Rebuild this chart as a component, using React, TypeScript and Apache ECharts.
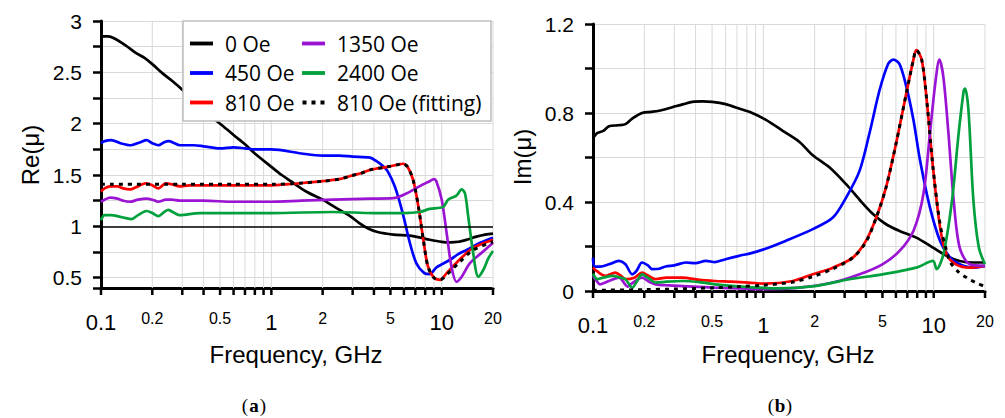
import React, { useEffect, useRef } from "react";
import * as echarts from "echarts";

// ---------- data (frequency in GHz, value) ----------
const re0Oe: [number, number][] = [
  [0.1, 2.85], [0.11, 2.85], [0.12, 2.83], [0.14, 2.76], [0.16, 2.69], [0.18, 2.64], [0.2, 2.58],
  [0.23, 2.49], [0.26, 2.42], [0.3, 2.33], [0.35, 2.22], [0.4, 2.13], [0.5, 2.0], [0.6, 1.89],
  [0.7, 1.8], [0.8, 1.71], [1.0, 1.58], [1.15, 1.5], [1.3, 1.44], [1.6, 1.34], [2.0, 1.26],
  [2.4, 1.18], [2.9, 1.1], [3.3, 1.03], [3.7, 0.98], [4.2, 0.945], [5.2, 0.92], [6.5, 0.91],
  [7.5, 0.89], [8.5, 0.87], [10, 0.85], [11.2, 0.845], [12.5, 0.85], [14, 0.87], [16, 0.9],
  [18, 0.92], [20, 0.93],
];
const re450Oe: [number, number][] = [
  [0.1, 1.81], [0.105, 1.83], [0.115, 1.84], [0.13, 1.81], [0.15, 1.79], [0.17, 1.82], [0.185, 1.84],
  [0.2, 1.81], [0.217, 1.79], [0.235, 1.82], [0.25, 1.83], [0.27, 1.81], [0.29, 1.79], [0.35, 1.79],
  [0.4, 1.78], [0.5, 1.76], [0.6, 1.77], [0.7, 1.76], [0.8, 1.75], [1.0, 1.75], [1.5, 1.71],
  [2.0, 1.69], [2.5, 1.69], [3.0, 1.68], [3.8, 1.67], [4.1, 1.64], [4.5, 1.59], [4.8, 1.54],
  [5.3, 1.39], [5.9, 1.13], [6.5, 0.84], [7.1, 0.64], [7.9, 0.545], [8.5, 0.535], [9.3, 0.6],
  [10, 0.63], [11.2, 0.675], [12.5, 0.73], [14, 0.77], [16.8, 0.84], [20, 0.89],
];
const re810Oe: [number, number][] = [
  [0.1, 1.34], [0.105, 1.37], [0.113, 1.39], [0.125, 1.39], [0.135, 1.37], [0.148, 1.36], [0.16, 1.38],
  [0.175, 1.41], [0.185, 1.42], [0.2, 1.4], [0.217, 1.37], [0.23, 1.4], [0.24, 1.42], [0.26, 1.41],
  [0.29, 1.39], [0.33, 1.4], [0.38, 1.4], [0.5, 1.4], [0.6, 1.4], [0.8, 1.4], [1.0, 1.4],
  [1.47, 1.42], [2.0, 1.44], [2.5, 1.46], [2.9, 1.49], [3.4, 1.52], [3.8, 1.55], [4.8, 1.58],
  [5.5, 1.6], [5.9, 1.61], [6.3, 1.58], [6.8, 1.45], [7.3, 1.19], [7.8, 0.87], [8.3, 0.61],
  [9.0, 0.5], [9.8, 0.48], [10.7, 0.545], [12.7, 0.675], [15.3, 0.79], [20, 0.87],
];
const re1350Oe: [number, number][] = [
  [0.1, 1.24], [0.105, 1.26], [0.113, 1.28], [0.125, 1.27], [0.135, 1.25], [0.148, 1.24], [0.165, 1.26],
  [0.185, 1.27], [0.2, 1.26], [0.217, 1.24], [0.24, 1.26], [0.26, 1.26], [0.29, 1.25], [0.4, 1.25],
  [0.6, 1.24], [1.0, 1.24], [1.5, 1.25], [2.3, 1.26], [3.8, 1.27], [5.2, 1.275], [6.2, 1.32],
  [7.4, 1.39], [8.5, 1.44], [9.0, 1.46], [9.3, 1.44], [10.0, 1.26], [10.7, 0.93], [11.4, 0.61],
  [12.2, 0.46], [13.1, 0.51], [14.6, 0.64], [16.8, 0.73], [20, 0.84],
];
const re2400Oe: [number, number][] = [
  [0.1, 1.06], [0.105, 1.11], [0.115, 1.11], [0.125, 1.1], [0.14, 1.08], [0.151, 1.07], [0.165, 1.11],
  [0.185, 1.15], [0.2, 1.13], [0.217, 1.1], [0.235, 1.14], [0.248, 1.16], [0.27, 1.13], [0.29, 1.11],
  [0.38, 1.13], [0.6, 1.13], [1.0, 1.13], [2.3, 1.14], [4.0, 1.13], [6.0, 1.13], [7.4, 1.14],
  [8.5, 1.17], [10.2, 1.19], [10.9, 1.26], [12.2, 1.3], [13.1, 1.36], [13.7, 1.32], [14.3, 1.1],
  [15.3, 0.74], [16.4, 0.51], [17.6, 0.58], [18.8, 0.69], [20, 0.76],
];
const re810Fit: [number, number][] = [
  [0.1, 1.41], [0.3, 1.41], [0.6, 1.41], [1.0, 1.41], [1.47, 1.42], [2.0, 1.44], [2.5, 1.46],
  [2.9, 1.49], [3.4, 1.52], [3.8, 1.55], [4.8, 1.58], [5.5, 1.6], [5.9, 1.61], [6.3, 1.58],
  [6.8, 1.45], [7.3, 1.19], [7.8, 0.87], [8.3, 0.61], [9.0, 0.5], [9.8, 0.48], [10.7, 0.53],
  [12.7, 0.65], [15.3, 0.77], [20, 0.85],
];

const im0Oe: [number, number][] = [
  [0.1, 0.69], [0.103, 0.7], [0.106, 0.71], [0.115, 0.72], [0.124, 0.74], [0.14, 0.745], [0.155, 0.75],
  [0.17, 0.775], [0.194, 0.8], [0.22, 0.805], [0.244, 0.81], [0.275, 0.82], [0.305, 0.83], [0.34, 0.84],
  [0.383, 0.85], [0.44, 0.852], [0.5, 0.85], [0.6, 0.84], [0.72, 0.82], [0.86, 0.8], [1.03, 0.77],
  [1.3, 0.72], [1.63, 0.67], [1.95, 0.61], [2.44, 0.556], [3.06, 0.48], [3.67, 0.41], [4.4, 0.346],
  [5.25, 0.3], [6.3, 0.27], [7.9, 0.24], [9.9, 0.195], [11.9, 0.158], [14.2, 0.135], [17.1, 0.128],
  [20, 0.128],
];
const im450Oe: [number, number][] = [
  [0.1, 0.15], [0.102, 0.11], [0.11, 0.11], [0.124, 0.12], [0.142, 0.135], [0.155, 0.12], [0.17, 0.075],
  [0.18, 0.09], [0.194, 0.128], [0.21, 0.115], [0.223, 0.098], [0.245, 0.1], [0.267, 0.11], [0.3, 0.115],
  [0.35, 0.128], [0.4, 0.125], [0.46, 0.135], [0.52, 0.13], [0.6, 0.143], [0.72, 0.158], [0.85, 0.17],
  [1.03, 0.19], [1.35, 0.225], [1.95, 0.278], [2.56, 0.33], [3.06, 0.42], [3.67, 0.54], [4.2, 0.71],
  [4.8, 0.9], [5.4, 1.02], [5.8, 1.04], [6.3, 1.02], [6.9, 0.92], [7.6, 0.77], [8.3, 0.59],
  [9.5, 0.376], [10.9, 0.225], [12.5, 0.15], [14.2, 0.12], [17.1, 0.105], [20, 0.113],
];
const im810Oe: [number, number][] = [
  [0.1, 0.105], [0.105, 0.09], [0.118, 0.068], [0.135, 0.083], [0.145, 0.07], [0.155, 0.053], [0.175, 0.06],
  [0.194, 0.083], [0.21, 0.07], [0.233, 0.053], [0.27, 0.06], [0.335, 0.06], [0.42, 0.05], [0.52, 0.045],
  [0.65, 0.042], [0.82, 0.038], [1.03, 0.033], [1.49, 0.045], [1.95, 0.075], [2.56, 0.105], [3.35, 0.15],
  [4.0, 0.225], [4.6, 0.33], [5.25, 0.466], [6.0, 0.66], [6.9, 0.887], [7.6, 1.04], [7.9, 1.083],
  [8.5, 1.04], [9.1, 0.857], [9.9, 0.556], [10.9, 0.286], [11.9, 0.165], [13.5, 0.12], [16.3, 0.105],
  [20, 0.113],
];
const im1350Oe: [number, number][] = [
  [0.1, 0.068], [0.105, 0.045], [0.11, 0.03], [0.124, 0.045], [0.142, 0.06], [0.16, 0.02], [0.17, 0.035],
  [0.194, 0.06], [0.215, 0.04], [0.233, 0.03], [0.28, 0.025], [0.335, 0.022], [0.52, 0.015], [0.8, 0.01],
  [1.03, 0.008], [1.63, 0.015], [2.56, 0.038], [3.67, 0.075], [5.0, 0.12], [6.3, 0.18], [7.6, 0.27],
  [8.7, 0.436], [9.5, 0.707], [10.2, 0.93], [10.8, 1.04], [11.4, 0.96], [12.2, 0.71], [13.1, 0.406],
  [14.2, 0.195], [16.3, 0.12], [20, 0.113],
];
const im2400Oe: [number, number][] = [
  [0.1, 0.078], [0.106, 0.053], [0.115, 0.06], [0.13, 0.068], [0.145, 0.06], [0.155, 0.053], [0.17, 0.015],
  [0.18, 0.04], [0.194, 0.075], [0.21, 0.06], [0.233, 0.038], [0.27, 0.042], [0.335, 0.045], [0.42, 0.04],
  [0.52, 0.03], [0.6, 0.025], [0.8, 0.018], [1.2, 0.012], [2.0, 0.022], [3.2, 0.053], [5.0, 0.075],
  [7.9, 0.105], [9.9, 0.135], [10.4, 0.098], [11.4, 0.165], [12.8, 0.406], [14.0, 0.707], [15.0, 0.9],
  [15.3, 0.91], [16.0, 0.81], [17.1, 0.406], [18.4, 0.195], [20, 0.12],
];
const im810Fit: [number, number][] = [
  [0.1, 0.003], [0.2, 0.006], [0.3, 0.009], [0.5, 0.014], [0.7, 0.019], [1.0, 0.026], [1.49, 0.04],
  [1.95, 0.065], [2.56, 0.1], [3.35, 0.15], [4.0, 0.22], [4.6, 0.33], [5.25, 0.466], [6.0, 0.66],
  [6.9, 0.887], [7.6, 1.04], [7.9, 1.083], [8.5, 1.04], [9.1, 0.857], [9.9, 0.556], [10.9, 0.3],
  [11.9, 0.18], [12.5, 0.13], [14, 0.085], [16, 0.055], [18, 0.035], [20, 0.02],
];

const seriesNames = ["0 Oe", "450 Oe", "810 Oe", "1350 Oe", "2400 Oe", "810 Oe (fitting)"];
const seriesColors = ["#000000", "#0000ff", "#ff0000", "#9b14d3", "#00a03c", "#000000"];
const reData = [re0Oe, re450Oe, re810Oe, re1350Oe, re2400Oe, re810Fit];
const imData = [im0Oe, im450Oe, im810Oe, im1350Oe, im2400Oe, im810Fit];

const xTicks = [0.1, 0.2, 0.3, 0.4, 0.5, 0.6, 0.7, 0.8, 0.9, 1, 2, 3, 4, 5, 6, 7, 8, 9, 10, 20];
const xLabelsBig = ["0.1", "1", "10"];
const xLabelsSmall = ["0.2", "0.5", "2", "5", "20"];
const reAxis = { min: 0.4, max: 3, step: 0.5 };
const imAxis = { min: 0, max: 1.2, step: 0.4 };
const unityLine = 1;

const FONT = "'Liberation Sans', Arial, sans-serif";
const SERIF = "'Liberation Serif', 'DejaVu Serif', serif";
const SOLID_ICON = "path://M0,0h24v4h-24z";
const DOT_ICON = "path://M0,0h4v4h-4z M9,0h4v4h-4z M18,0h4v4h-4z";

function tickSeries(idx: number, yMin: number, yMax: number) {
  return {
    type: "custom",
    xAxisIndex: idx,
    yAxisIndex: idx,
    z: 1,
    clip: false,
    silent: true,
    data: xTicks.map((v) => [v, yMin]),
    renderItem: (params: any, api: any) => {
      const v = api.value(0);
      const b = api.coord([v, yMin]);
      const t = api.coord([v, yMax]);
      const children: any[] = [];
      if (v !== xTicks[0]) {
        children.push({
          type: "line",
          shape: { x1: b[0], y1: t[1], x2: b[0], y2: b[1] },
          style: { stroke: "#d9d9d9", lineWidth: 1 },
        });
      }
      children.push({
        type: "line",
        shape: { x1: b[0], y1: b[1], x2: b[0], y2: b[1] + 7 },
        style: { stroke: "#000", lineWidth: 2.5 },
      });
      const s = String(v);
      const big = xLabelsBig.includes(s);
      const small = xLabelsSmall.includes(s);
      if (big || small) {
        children.push({
          type: "text",
          style: {
            text: s,
            x: b[0],
            y: b[1] + (big ? 34 : 30),
            fill: "#000",
            font: `${big ? 22 : 16}px ${FONT}`,
            align: "center",
            verticalAlign: "middle",
            textAlign: "center",
            textVerticalAlign: "middle",
          },
        });
      }
      return { type: "group", children };
    },
  };
}

function lineSeries(idx: number, data: [number, number][][]) {
  return data.map((d, i) => {
    const fit = i === 5;
    const s: any = {
      type: "line",
      name: seriesNames[i],
      xAxisIndex: idx,
      yAxisIndex: idx,
      data: d,
      symbol: "none",
      showSymbol: false,
      smooth: 0.3,
      z: fit ? 5 : 3,
      lineStyle: { color: seriesColors[i], width: fit ? 3 : 2.7, type: fit ? [4, 5] : "solid" },
      itemStyle: { color: seriesColors[i] },
    };
    if (idx === 0 && i === 0) {
      s.markLine = {
        silent: true,
        symbol: ["none", "none"],
        label: { show: false },
        lineStyle: { color: "#000", width: 1.5, type: "solid" },
        data: [{ yAxis: unityLine }],
      };
    }
    return s;
  });
}

function yAxisOpt(idx: number, ax: { min: number; max: number; step: number }) {
  return {
    type: "value",
    gridIndex: idx,
    min: ax.min,
    max: ax.max,
    minInterval: ax.step,
    maxInterval: ax.step,
    axisLine: { show: true, lineStyle: { color: "#000", width: 3 } },
    axisTick: { show: true, inside: false, length: 8, lineStyle: { color: "#000", width: 2.5 } },
    minorTick: { show: true, splitNumber: 2, length: 8, lineStyle: { color: "#000", width: 2.5 } },
    splitLine: { show: true, lineStyle: { color: "#d9d9d9", width: 1 } },
    minorSplitLine: { show: true, lineStyle: { color: "#d9d9d9", width: 1 } },
    axisLabel: {
      color: "#000",
      fontSize: 21,
      fontFamily: FONT,
      margin: 19,
      formatter: (v: number) => {
        const r = Math.round(v / ax.step) * ax.step;
        return Math.abs(r - v) < 1e-6 ? String(Math.round(v * 10) / 10) : "";
      },
    },
  };
}

function xAxisOpt(idx: number) {
  return {
    type: "log",
    logBase: 10,
    gridIndex: idx,
    min: 0.1,
    max: 20,
    axisLine: { show: true, onZero: false, lineStyle: { color: "#000", width: 3 } },
    axisTick: { show: false },
    axisLabel: { show: false },
    splitLine: { show: false },
  };
}

function textEl(text: string, x: number, y: number, size: number, rotation = 0) {
  return {
    type: "text",
    x,
    y,
    rotation,
    style: {
      text,
      fill: "#000",
      font: `${size}px ${FONT}`,
      align: "center",
      verticalAlign: "middle",
      textAlign: "center",
      textVerticalAlign: "middle",
    },
  };
}

function captionEl(letter: string, x: number, y: number) {
  const st = (t: string, bold: boolean) => ({
    text: t,
    fill: "#000",
    font: `${bold ? "bold " : ""}19px ${SERIF}`,
    align: "center",
    verticalAlign: "middle",
    textAlign: "center",
    textVerticalAlign: "middle",
  });
  return {
    type: "group",
    x,
    y,
    children: [
      { type: "text", x: -9, y: 0, style: st("(", false) },
      { type: "text", x: 0, y: 0, style: st(letter, true) },
      { type: "text", x: 9, y: 0, style: st(")", false) },
    ],
  };
}

export default function App() {
  const ref = useRef<HTMLDivElement>(null);
  useEffect(() => {
    if (!ref.current) return;
    const chart = echarts.init(ref.current, undefined, { renderer: "svg" });
    const legendBase = {
      orient: "vertical",
      top: 33,
      itemWidth: 23,
      itemHeight: 4,
      itemGap: 8.5,
      padding: 0,
      z: 10,
      selectedMode: false,
      textStyle: { fontFamily: "'Open Sans', sans-serif", fontSize: 21, lineHeight: 20, color: "#000", padding: [0, 0, 0, 7] },
    };
    const legendItem = (i: number) => ({ name: seriesNames[i], icon: i === 5 ? DOT_ICON : SOLID_ICON });
    chart.setOption({
      animation: false,
      backgroundColor: "#ffffff",
      grid: [
        { left: 101, top: 21, width: 392, height: 267, containLabel: false, outerBoundsMode: "none" },
        { left: 593, top: 24, width: 392, height: 267, containLabel: false, outerBoundsMode: "none" },
      ],
      xAxis: [xAxisOpt(0), xAxisOpt(1)],
      yAxis: [yAxisOpt(0, reAxis), yAxisOpt(1, imAxis)],
      legend: [
        { ...legendBase, left: 190, data: [legendItem(0), legendItem(1), legendItem(2)] },
        { ...legendBase, left: 302, data: [legendItem(3), legendItem(4), legendItem(5)] },
      ],
      graphic: [
        {
          type: "rect",
          z: 8,
          shape: { x: 183, y: 21, width: 308, height: 100 },
          style: { fill: "#ffffff", stroke: "#bfbfbf", lineWidth: 1.5 },
        },
        textEl("Re(μ)", 30, 155, 24, Math.PI / 2),
        textEl("Im(μ)", 522, 157, 24, Math.PI / 2),
        textEl("Frequency, GHz", 296, 354, 24),
        textEl("Frequency, GHz", 788, 354, 24),
        captionEl("a", 254, 405),
        captionEl("b", 780, 405),
      ],
      series: [
        tickSeries(0, reAxis.min, reAxis.max),
        tickSeries(1, imAxis.min, imAxis.max),
        ...lineSeries(0, reData),
        ...lineSeries(1, imData),
      ],
    });
    return () => chart.dispose();
  }, []);
  return (
    <div
      ref={ref}
      style={{ position: "absolute", left: 0, top: 0, width: 1005, height: 418, background: "#fff" }}
    />
  );
}
